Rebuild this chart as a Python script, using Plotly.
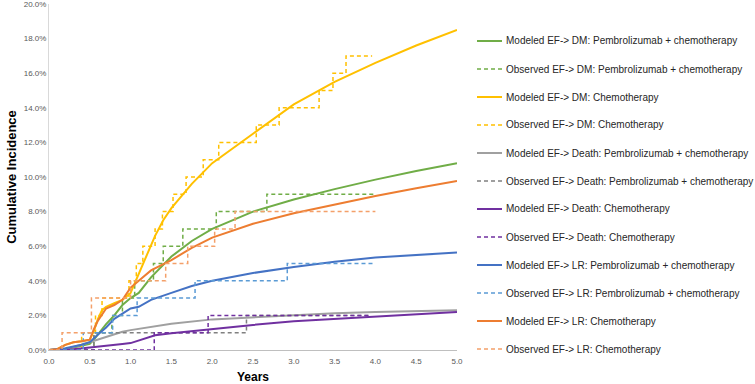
import plotly.graph_objects as go

# ---------------- data (cumulative incidence, %) ----------------
mod_dm_pem_x = [0, 0.2, 0.3, 0.4, 0.5, 0.55, 0.6, 0.7, 0.8, 0.9, 1.0, 1.1, 1.25, 1.5, 1.75, 2.0, 2.5, 3.0, 3.5, 4.0, 4.5, 5.0]
mod_dm_pem_y = [0, 0.05, 0.15, 0.25, 0.35, 0.6, 0.9, 1.5, 2.0, 2.6, 3.0, 3.3, 4.2, 5.4, 6.3, 7.0, 8.0, 8.7, 9.3, 9.85, 10.35, 10.8]
obs_dm_pem_x = [0, 0.55, 0.77, 0.9, 1.05, 1.28, 1.40, 1.64, 2.05, 2.67, 4.0]
obs_dm_pem_y = [0, 1, 2, 3, 4, 5, 6, 7, 8, 9, 9]

mod_dm_chemo_x = [0, 0.1, 0.2, 0.3, 0.4, 0.5, 0.55, 0.6, 0.65, 0.7, 0.8, 0.9, 1.0, 1.1, 1.2, 1.3, 1.4, 1.5, 1.75, 2.0, 2.5, 3.0, 3.5, 4.0, 4.5, 5.0]
mod_dm_chemo_y = [0, 0.05, 0.3, 0.45, 0.5, 0.6, 1.1, 1.8, 2.3, 2.5, 2.7, 2.9, 3.3, 4.4, 5.5, 6.6, 7.5, 8.2, 9.6, 10.8, 12.5, 14.2, 15.5, 16.6, 17.6, 18.5]
obs_dm_chemo_x = [0, 0.4, 0.57, 0.65, 0.98, 1.07, 1.15, 1.30, 1.39, 1.52, 1.68, 1.89, 2.08, 2.54, 2.82, 3.31, 3.48, 3.64, 3.96]
obs_dm_chemo_y = [0, 1, 2, 3, 4, 5, 6, 7, 8, 9, 10, 11, 12, 13, 14, 15, 16, 17, 17]

mod_death_pem_x = [0, 0.2, 0.4, 0.5, 0.6, 0.75, 0.9, 1.0, 1.25, 1.5, 2.0, 2.5, 3.0, 3.5, 4.0, 4.5, 5.0]
mod_death_pem_y = [0, 0.05, 0.3, 0.45, 0.6, 0.8, 1.05, 1.15, 1.35, 1.52, 1.77, 1.9, 2.02, 2.12, 2.2, 2.26, 2.3]
obs_death_pem_x = [0, 0.55, 2.42, 3.95]
obs_death_pem_y = [0, 1, 2, 2]

mod_death_chemo_x = [0, 0.3, 0.5, 0.75, 0.9, 1.0, 1.1, 1.2, 1.3, 1.5, 1.75, 2.0, 2.5, 3.0, 3.5, 4.0, 4.5, 5.0]
mod_death_chemo_y = [0, 0.05, 0.15, 0.25, 0.35, 0.4, 0.55, 0.7, 0.85, 0.97, 1.1, 1.22, 1.45, 1.66, 1.8, 1.93, 2.07, 2.2]
obs_death_chemo_x = [0, 1.29, 1.95, 3.95]
obs_death_chemo_y = [0, 1, 2, 2]

mod_lr_pem_x = [0, 0.2, 0.4, 0.5, 0.6, 0.7, 0.8, 0.9, 1.0, 1.1, 1.25, 1.5, 1.75, 2.0, 2.5, 3.0, 3.5, 4.0, 4.5, 5.0]
mod_lr_pem_y = [0, 0.1, 0.3, 0.45, 0.9, 1.3, 1.8, 2.1, 2.4, 2.5, 2.9, 3.3, 3.7, 4.0, 4.45, 4.8, 5.1, 5.35, 5.5, 5.63]
obs_lr_pem_x = [0, 0.42, 0.78, 1.08, 1.79, 2.92, 4.0]
obs_lr_pem_y = [0, 1, 2, 3, 4, 5, 5]

mod_lr_chemo_x = [0, 0.1, 0.2, 0.3, 0.4, 0.5, 0.55, 0.6, 0.7, 0.8, 0.9, 1.0, 1.1, 1.25, 1.5, 1.75, 2.0, 2.5, 3.0, 3.5, 4.0, 4.5, 5.0]
mod_lr_chemo_y = [0, 0.05, 0.3, 0.45, 0.5, 0.6, 1.2, 1.7, 2.4, 2.6, 2.9, 3.6, 4.0, 4.6, 5.2, 5.9, 6.5, 7.3, 7.9, 8.4, 8.9, 9.35, 9.77]
obs_lr_chemo_x = [0, 0.16, 0.52, 1.0, 1.43, 1.70, 2.03, 2.28, 4.0]
obs_lr_chemo_y = [0, 1, 3, 4, 5, 6, 7, 8, 8]

x_ticks = [0, 0.5, 1.0, 1.5, 2.0, 2.5, 3.0, 3.5, 4.0, 4.5, 5.0]
y_ticks = [0, 2, 4, 6, 8, 10, 12, 14, 16, 18, 20]

series = [
    ("Modeled EF-> DM: Pembrolizumab + chemotherapy", mod_dm_pem_x, mod_dm_pem_y, "#70AD47", "solid", "linear"),
    ("Observed EF-> DM: Pembrolizumab + chemotherapy", obs_dm_pem_x, obs_dm_pem_y, "#70AD47", "4px,3px", "hv"),
    ("Modeled EF-> DM: Chemotherapy", mod_dm_chemo_x, mod_dm_chemo_y, "#FFC000", "solid", "linear"),
    ("Observed EF-> DM: Chemotherapy", obs_dm_chemo_x, obs_dm_chemo_y, "#FFC000", "4px,3px", "hv"),
    ("Modeled EF-> Death: Pembrolizumab + chemotherapy", mod_death_pem_x, mod_death_pem_y, "#A0A0A0", "solid", "linear"),
    ("Observed EF-> Death: Pembrolizumab + chemotherapy", obs_death_pem_x, obs_death_pem_y, "#808080", "4px,3px", "hv"),
    ("Modeled EF-> Death: Chemotherapy", mod_death_chemo_x, mod_death_chemo_y, "#7030A0", "solid", "linear"),
    ("Observed EF-> Death: Chemotherapy", obs_death_chemo_x, obs_death_chemo_y, "#7030A0", "4px,3px", "hv"),
    ("Modeled EF-> LR: Pembrolizumab + chemotherapy", mod_lr_pem_x, mod_lr_pem_y, "#4472C4", "solid", "linear"),
    ("Observed EF-> LR: Pembrolizumab + chemotherapy", obs_lr_pem_x, obs_lr_pem_y, "#5B9BD5", "4px,3px", "hv"),
    ("Modeled EF-> LR: Chemotherapy", mod_lr_chemo_x, mod_lr_chemo_y, "#ED7D31", "solid", "linear"),
    ("Observed EF-> LR: Chemotherapy", obs_lr_chemo_x, obs_lr_chemo_y, "#F4A06A", "4px,3px", "hv"),
]

W, H = 755, 384
ML, MR, MT, MB = 49, 298, 4, 34
PW, PH = W - ML - MR, H - MT - MB
FONT = "Liberation Sans, Arial, sans-serif"

def px_to_paper_x(px):
    return (px - ML) / PW

def px_to_paper_y(py):
    return (H - MB - py) / PH

fig = go.Figure()
shapes, annotations = [], []
for i, (name, xs, ys, color, dash, shape) in enumerate(series):
    lw = 2 if dash == "solid" else 1.5
    fig.add_trace(go.Scatter(
        x=xs, y=ys, name=name, mode="lines", showlegend=False,
        line=dict(color=color, width=lw, dash=dash, shape=shape),
    ))
    # legend entry (sample line + label)
    row_y = px_to_paper_y(41 + 28 * i)
    shapes.append(dict(
        type="line", xref="paper", yref="paper",
        x0=px_to_paper_x(477), x1=px_to_paper_x(502), y0=row_y, y1=row_y,
        line=dict(color=color, width=lw, dash=dash),
    ))
    annotations.append(dict(
        xref="paper", yref="paper", x=px_to_paper_x(504), y=row_y,
        xanchor="left", yanchor="middle", showarrow=False, text=name,
        font=dict(family=FONT, size=10, color="#262626"),
    ))

fig.update_layout(
    width=W, height=H,
    margin=dict(l=ML, r=MR, t=MT, b=MB),
    paper_bgcolor="white", plot_bgcolor="white",
    font=dict(family=FONT, size=10, color="#262626"),
    showlegend=False,
    shapes=shapes, annotations=annotations,
    xaxis=dict(
        range=[0, 5], tickvals=x_ticks, ticktext=[f"{v:.1f}" for v in x_ticks],
        showgrid=False, zeroline=False, showline=True, linecolor="#BFBFBF", linewidth=1,
        ticks="", tickfont=dict(size=8, color="#595959", family=FONT), automargin=False,
        ticklabelstandoff=3, ticklabeloverflow="allow",
        title=dict(text="<b>Years</b>", font=dict(size=12, color="#000000", family=FONT), standoff=9),
    ),
    yaxis=dict(
        range=[0, 20], tickvals=y_ticks, ticktext=[f"{v:.1f}%" for v in y_ticks],
        showgrid=False, zeroline=False, showline=True, linecolor="#D9D9D9", linewidth=1,
        ticks="", tickfont=dict(size=8, color="#595959", family=FONT), automargin=False,
        ticklabeloverflow="allow",
        title=dict(text="<b>Cumulative Incidence</b>", font=dict(size=13, color="#000000", family=FONT), standoff=4),
    ),
)

fig.write_html("out.html", config={"displayModeBar": False},
               post_script="document.body.style.margin='0';document.body.style.padding='0';")
